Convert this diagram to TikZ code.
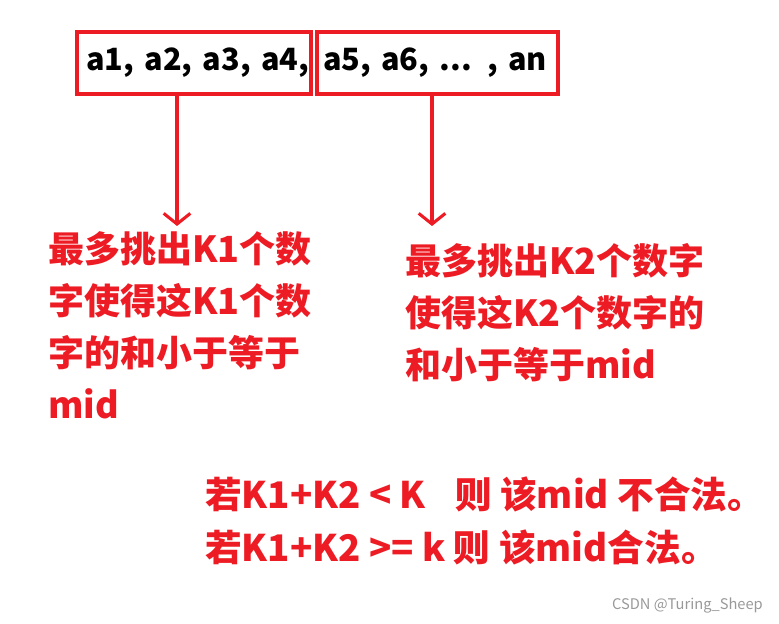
\documentclass[tikz,border=0pt]{standalone}
\usepackage{fontspec}
\setmainfont{Noto Sans CJK SC}
\usetikzlibrary{arrows.meta}
\definecolor{pred}{RGB}{237,28,36}
\tikzset{
  redline/.style={draw=pred, line width=2.3pt},
  numbox/.style={redline, outer sep=0pt, inner ysep=0pt, minimum height=46.5pt, align=left, anchor=north west, font=\fontsize{23}{27}\selectfont\bfseries},
  arr/.style={pred, line width=2.3pt, -{Straight Barb[length=8pt,width=20pt,line width=2.3pt]}},
  note/.style={text=pred, inner sep=0pt, anchor=north west, align=left, font=\fontsize{27}{39}\selectfont\bfseries},
  wmark/.style={text=black!40, inner sep=0pt, font=\fontsize{11}{13}\selectfont}
}

\begin{document}
\begin{tikzpicture}[x=0.75pt,y=-0.75pt]
    \useasboundingbox (0,0) rectangle (779,624);
    \node[numbox, inner xsep=7pt, text width=161.5pt] (left) at (77,32) {\mbox{a1, a2, a3, a4,}};
    \node[numbox, inner xsep=4.5pt, text width=171.75pt] (right) at (317,32) {\mbox{a5, a6, ... , an}};
    \coordinate (tip1) at (177,226);
    \coordinate (tip2) at (432,226);
    \draw[arr] (left.south -| tip1) -- (tip1);
    \draw[arr] ([yshift=-1.5pt]right.south -| tip2) -- (tip2);
    \node[note] (first) at (48,231) {最多挑出K1个数\\字使得这K1个数\\字的和小于等于\\mid};
    \node[note] (second) at (405,243) {最多挑出K2个数字\\使得这K2个数字的\\和小于等于mid};
    \node[note, font=\fontsize{27.5}{39.5}\selectfont\bfseries] (rule) at (205,477) {若K1+K2 < K\hspace{22pt}则 该mid 不合法。\\若K1+K2 >= k 则 该mid合法。};
    \node[wmark, anchor=east] (credit) at (763,605) {CSDN @Turing\_Sheep};
  \end{tikzpicture}
\end{document}
